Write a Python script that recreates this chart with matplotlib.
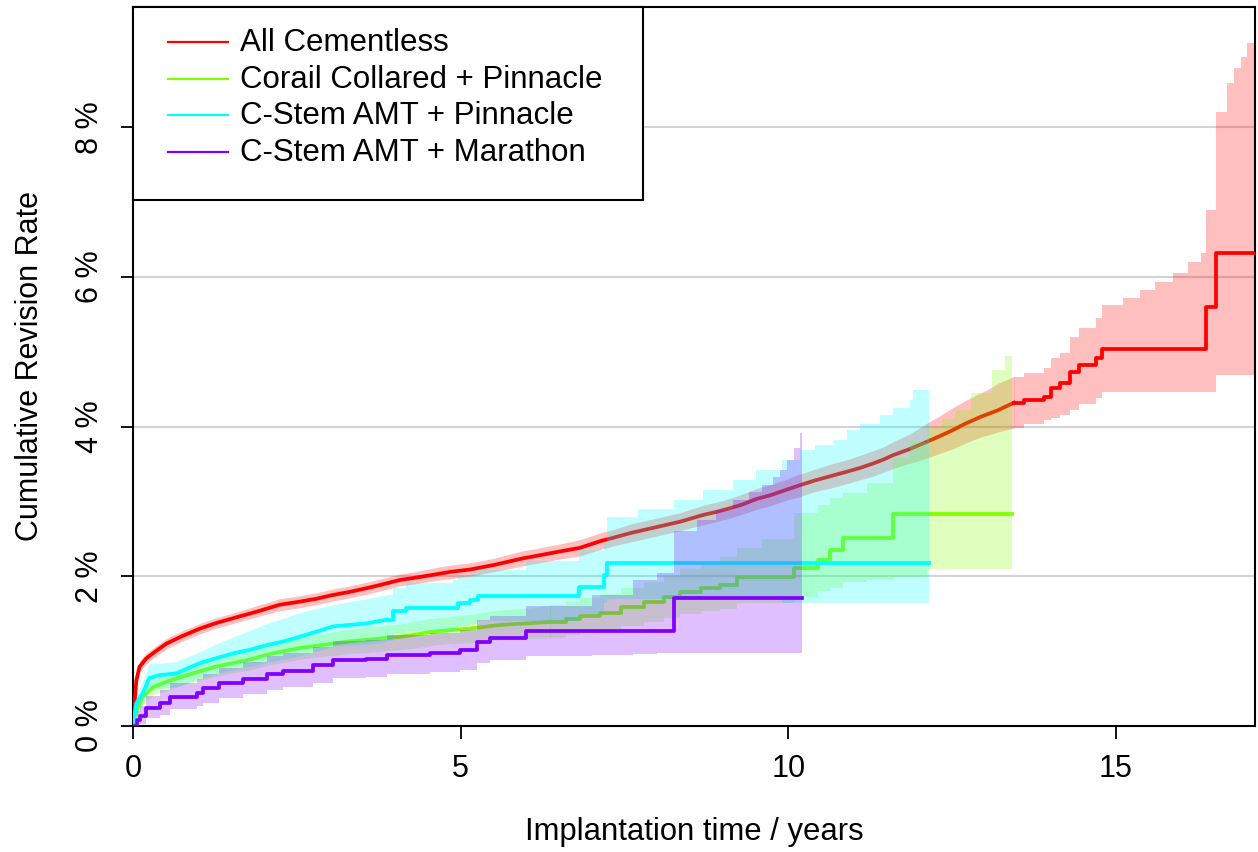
import numpy as np
import matplotlib.pyplot as plt
from matplotlib.lines import Line2D
from matplotlib.patches import Rectangle
from matplotlib.legend_handler import HandlerLine2D

plt.rcParams['font.family'] = ['Liberation Sans', 'DejaVu Sans']

# All Cementless: time (years), estimate, lower / upper CI (%)
red_t = [0, 0.03, 0.05, 0.1, 0.2, 0.35, 0.51, 0.75, 1.02, 1.25, 1.53, 1.9, 2.24, 2.54, 2.8,
         3.05, 3.3, 3.56, 3.8, 4.07, 4.3, 4.58, 4.85, 5.14, 5.5, 5.95, 6.2, 6.5, 6.82, 7.13,
         7.35, 7.6, 7.9, 8.1, 8.35, 8.7, 8.9, 9.11, 9.3, 9.5, 9.75, 9.98, 10.15, 10.4, 10.65,
         10.9, 11.1, 11.3, 11.45, 11.6, 11.85, 12.12, 12.3, 12.5, 12.7, 12.93, 13.05, 13.2,
         13.44, 13.6, 13.9, 14.0, 14.15, 14.3, 14.43, 14.69, 14.79, 15.1, 15.37, 15.6, 15.87,
         16.1, 16.29, 16.38, 16.52, 16.7, 16.8, 16.9, 17.0, 17.1, 17.2]
red_est = [0, 0.35, 0.6, 0.79, 0.9, 1.0, 1.1, 1.2, 1.3, 1.37, 1.44, 1.53, 1.62, 1.66, 1.7,
           1.75, 1.79, 1.84, 1.89, 1.95, 1.98, 2.02, 2.06, 2.09, 2.15, 2.24, 2.28, 2.33, 2.38, 2.47,
           2.52, 2.58, 2.64, 2.68, 2.73, 2.82, 2.86, 2.91, 2.96, 3.03, 3.09, 3.16, 3.21, 3.28, 3.34,
           3.4, 3.45, 3.51, 3.56, 3.62, 3.7, 3.8, 3.87, 3.95, 4.04, 4.13, 4.17, 4.22,
           4.32, 4.35, 4.4, 4.52, 4.58, 4.73, 4.83, 4.92, 5.04, 5.04, 5.04, 5.04, 5.04,
           5.04, 5.04, 5.6, 6.32, 6.32, 6.32, 6.32, 6.32, 6.32, 6.32]
red_lo = [0, 0.28, 0.53, 0.72, 0.83, 0.93, 1.03, 1.13, 1.23, 1.3, 1.37, 1.46, 1.54, 1.58, 1.62,
          1.67, 1.71, 1.76, 1.81, 1.87, 1.9, 1.94, 1.97, 2.0, 2.06, 2.14, 2.18, 2.23, 2.27, 2.36,
          2.41, 2.46, 2.52, 2.56, 2.61, 2.69, 2.73, 2.78, 2.83, 2.89, 2.95, 3.02, 3.06, 3.13, 3.18,
          3.24, 3.29, 3.34, 3.39, 3.44, 3.51, 3.58, 3.64, 3.7, 3.78, 3.86, 3.89, 3.93,
          3.98, 4.03, 4.09, 4.12, 4.15, 4.22, 4.3, 4.38, 4.47, 4.47, 4.47, 4.47, 4.47,
          4.47, 4.47, 4.47, 4.69, 4.69, 4.69, 4.69, 4.69, 4.69, 4.69]
red_hi = [0, 0.42, 0.67, 0.86, 0.97, 1.07, 1.17, 1.27, 1.37, 1.44, 1.51, 1.61, 1.7, 1.74, 1.78,
          1.83, 1.87, 1.92, 1.97, 2.03, 2.06, 2.11, 2.15, 2.18, 2.24, 2.34, 2.38, 2.43, 2.49, 2.58,
          2.63, 2.7, 2.76, 2.8, 2.85, 2.95, 2.99, 3.04, 3.1, 3.17, 3.23, 3.3, 3.36, 3.43, 3.5,
          3.56, 3.62, 3.68, 3.73, 3.8, 3.9, 4.05, 4.14, 4.25, 4.35, 4.45, 4.5, 4.58,
          4.67, 4.72, 4.79, 4.92, 4.98, 5.2, 5.32, 5.45, 5.63, 5.72, 5.83, 5.93, 6.05,
          6.2, 6.32, 6.9, 8.2, 8.6, 8.8, 8.94, 9.13, 9.57, 9.8]

# Corail Collared + Pinnacle
grn_t = [0, 0.05, 0.15, 0.31, 0.51, 0.75, 1.02, 1.25, 1.53, 1.8, 2.04, 2.3, 2.54, 2.8, 3.05,
         3.3, 3.56, 3.8, 4.07, 4.3, 4.58, 4.85, 5.14, 5.6, 6.0, 6.37, 6.6, 6.82, 7.13, 7.44,
         7.79, 8.1, 8.35, 8.66, 8.95, 9.22, 9.6, 10.08, 10.46, 10.64, 10.84, 11.2, 11.59,
         11.85, 12.12, 12.35, 12.55, 12.78, 13.1, 13.3, 13.42]
grn_est = [0, 0.2, 0.39, 0.52, 0.59, 0.66, 0.73, 0.79, 0.84, 0.89, 0.95, 1.0, 1.04, 1.07, 1.1,
           1.13, 1.15, 1.17, 1.19, 1.22, 1.26, 1.28, 1.3, 1.35, 1.37, 1.39, 1.43, 1.47, 1.51, 1.59,
           1.66, 1.72, 1.79, 1.84, 1.88, 1.99, 1.99, 2.11, 2.22, 2.35, 2.51, 2.51, 2.83,
           2.83, 2.83, 2.83, 2.83, 2.83, 2.83, 2.83, 2.83]
grn_lo = [0, 0.12, 0.29, 0.41, 0.47, 0.54, 0.61, 0.66, 0.71, 0.75, 0.81, 0.85, 0.89, 0.92, 0.94,
          0.97, 0.98, 1.0, 1.02, 1.04, 1.08, 1.1, 1.11, 1.15, 1.17, 1.18, 1.21, 1.24, 1.27, 1.33,
          1.39, 1.44, 1.49, 1.53, 1.56, 1.64, 1.64, 1.72, 1.8, 1.85, 1.93, 1.95, 1.99,
          1.99, 2.1, 2.1, 2.1, 2.1, 2.1, 2.1, 2.1]
grn_hi = [0, 0.28, 0.49, 0.63, 0.71, 0.78, 0.86, 0.92, 0.97, 1.03, 1.09, 1.15, 1.19, 1.22, 1.26,
          1.29, 1.32, 1.34, 1.36, 1.4, 1.44, 1.46, 1.49, 1.55, 1.57, 1.61, 1.66, 1.71, 1.76, 1.85,
          1.93, 2.01, 2.1, 2.18, 2.26, 2.38, 2.5, 2.85, 2.95, 3.05, 3.11, 3.25, 3.58,
          3.8, 4.0, 4.1, 4.22, 4.45, 4.76, 4.95, 5.09]

# C-Stem AMT + Pinnacle
cyn_t = [0, 0.05, 0.15, 0.25, 0.41, 0.66, 1.02, 1.25, 1.53, 1.8, 2.04, 2.3, 2.54, 2.8, 3.05,
         3.3, 3.56, 3.87, 3.97, 4.17, 4.89, 4.96, 5.14, 5.27, 6.0, 6.8, 7.18, 7.24, 7.7, 8.25,
         8.7, 9.16, 9.5, 9.9, 10.18, 10.4, 10.7, 10.9, 11.1, 11.4, 11.6, 11.86, 11.9, 12.14]
cyn_est = [0, 0.3, 0.44, 0.64, 0.68, 0.7, 0.84, 0.9, 0.97, 1.02, 1.08, 1.13, 1.19, 1.26, 1.33,
           1.35, 1.37, 1.42, 1.53, 1.57, 1.57, 1.64, 1.68, 1.73, 1.73, 1.86, 2.02, 2.18, 2.18, 2.18,
           2.18, 2.18, 2.18, 2.18, 2.18, 2.18, 2.18, 2.18, 2.18, 2.18, 2.18, 2.18, 2.18, 2.18]
cyn_lo = [0, 0.18, 0.3, 0.46, 0.5, 0.52, 0.64, 0.69, 0.75, 0.8, 0.85, 0.89, 0.94, 1.0, 1.06,
          1.08, 1.09, 1.13, 1.23, 1.27, 1.27, 1.33, 1.36, 1.4, 1.4, 1.5, 1.64, 1.7, 1.7, 1.7,
          1.7, 1.7, 1.7, 1.64, 1.64, 1.64, 1.64, 1.64, 1.64, 1.64, 1.64, 1.64, 1.64, 1.64]
cyn_hi = [0, 0.42, 0.6, 0.84, 0.84, 0.86, 0.99, 1.09, 1.19, 1.28, 1.37, 1.44, 1.51, 1.57, 1.62,
          1.66, 1.7, 1.75, 1.85, 1.91, 1.95, 1.99, 2.03, 2.08, 2.2, 2.35, 2.45, 2.79, 2.9, 3.02,
          3.15, 3.29, 3.42, 3.56, 3.69, 3.75, 3.82, 3.96, 4.03, 4.15, 4.25, 4.36, 4.49, 4.59]

# C-Stem AMT + Marathon
pur_t = [0, 0.06, 0.1, 0.2, 0.41, 0.56, 0.97, 1.07, 1.32, 1.68, 2.04, 2.29, 2.75, 3.05, 3.56,
         3.87, 4.53, 4.99, 5.25, 5.45, 6.0, 7.0, 7.63, 8.0, 8.25, 8.6, 8.9, 9.16, 9.4, 9.6,
         9.77, 9.88, 9.98, 10.08, 10.18, 10.21]
pur_est = [0, 0.08, 0.13, 0.24, 0.3, 0.39, 0.44, 0.5, 0.57, 0.63, 0.7, 0.74, 0.81, 0.88, 0.9,
           0.95, 0.97, 1.01, 1.12, 1.17, 1.27, 1.27, 1.27, 1.27, 1.71, 1.71, 1.71, 1.71, 1.71, 1.71,
           1.71, 1.71, 1.71, 1.71, 1.71, 1.71]
pur_lo = [0, 0.0, 0.03, 0.1, 0.15, 0.22, 0.26, 0.31, 0.37, 0.42, 0.48, 0.52, 0.58, 0.64, 0.66,
          0.7, 0.72, 0.75, 0.84, 0.88, 0.93, 0.95, 0.96, 0.97, 0.98, 0.98, 0.98, 0.98, 0.98, 0.98,
          0.98, 0.98, 0.98, 0.98, 0.98, 0.98]
pur_hi = [0, 0.2, 0.26, 0.4, 0.48, 0.57, 0.63, 0.7, 0.78, 0.85, 0.93, 0.97, 1.05, 1.13, 1.15,
          1.21, 1.24, 1.28, 1.42, 1.47, 1.6, 1.75, 1.95, 2.05, 2.6, 2.75, 2.88, 3.02, 3.12, 3.22,
          3.33, 3.42, 3.56, 3.72, 3.92, 3.92]

labels = ["All Cementless", "Corail Collared + Pinnacle", "C-Stem AMT + Pinnacle", "C-Stem AMT + Marathon"]
colors = ["#FF0000", "#80FF00", "#00FFFF", "#8000FF"]
# up to this time the curve has very many tiny steps, so it is drawn as a plain line
smooth_until = [13.44, 6.37, 3.87, 0]
series = [(red_t, red_est, red_lo, red_hi), (grn_t, grn_est, grn_lo, grn_hi),
          (cyn_t, cyn_est, cyn_lo, cyn_hi), (pur_t, pur_est, pur_lo, pur_hi)]

fig = plt.figure(figsize=(12.58, 8.52), dpi=100)
ax = fig.add_axes([0.1057, 0.148, 0.8919, 0.8438])

for yv in [2, 4, 6, 8]:
    ax.axhline(yv, color="#d3d3d3", lw=1.5, zorder=0)

for i, (t, est, lo, hi) in enumerate(series):
    t, est, lo, hi = map(np.asarray, (t, est, lo, hi))
    n = np.searchsorted(t, smooth_until[i]) + 1
    z = 2 + 2 * i
    if n > 1:
        ax.fill_between(t[:n], lo[:n], hi[:n], color=colors[i], alpha=0.25, lw=0, zorder=z)
        ax.plot(t[:n], est[:n], color=colors[i], lw=2.7, zorder=z + 1, solid_joinstyle="round")
    m = max(n - 1, 0)
    ax.fill_between(t[m:], lo[m:], hi[m:], step="post", color=colors[i], alpha=0.25, lw=0, zorder=z)
    ax.plot(t[m:], est[m:], drawstyle="steps-post", color=colors[i], lw=2.7, zorder=z + 1)

ax.set_xlim(0, 17.12)
ax.set_ylim(0, 9.61)
ax.set_xticks([0, 5, 10, 15])
ax.set_yticks([0, 2, 4, 6, 8])
ax.set_yticklabels([f"{v} %" for v in [0, 2, 4, 6, 8]], rotation=90, va="center")
ax.tick_params(axis="both", direction="out", length=9, width=1.3, labelsize=22, pad=11)
for s in ax.spines.values():
    s.set_linewidth(1.5)

ax.set_xlabel("Implantation time / years", fontsize=22.3, labelpad=24)
ax.set_ylabel("Cumulative Revision Rate", fontsize=22, labelpad=22)

# legend box drawn separately: it has more room below the last entry than above the first
ax.add_patch(Rectangle((0, 1 - 0.2684), 0.4545, 0.2684, transform=ax.transAxes,
                       facecolor="white", edgecolor="black", lw=1.5, zorder=19, clip_on=False))
handles = [Line2D([], [], color=c, lw=1.6) for c in colors]
leg = ax.legend(handles, labels, loc="upper left", bbox_to_anchor=(0, 0, 0.4545, 1.0),
                mode="expand", borderaxespad=0, frameon=False,
                fontsize=22.5, handlelength=2.8, handletextpad=-0.056, labelspacing=0.21,
                borderpad=0.68, handleheight=0.3,
                handler_map={Line2D: HandlerLine2D(marker_pad=0.44, numpoints=2)})
leg.set_zorder(20)

plt.savefig("out.png", dpi=100)
